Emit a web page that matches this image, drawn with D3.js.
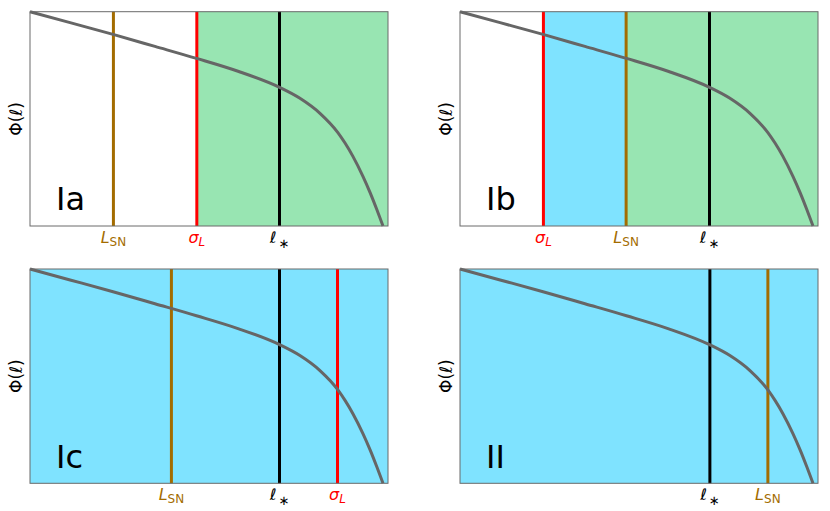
<!DOCTYPE html>
<html>
<head>
<meta charset="utf-8">
<script src="https://cdn.jsdelivr.net/npm/d3@7"></script>
<style>
  body { margin: 0; background: #fff; }
  text { font-family: "DejaVu Sans", sans-serif; }
</style>
</head>
<body>
<script>
// curve Phi(l) (arbitrary units, 0..100 on both axes)
const curveX = [0, 11.2, 23.2, 34.9, 46.5, 58.1, 69.7, 75.4, 81.0, 86.0, 88.0, 90.2, 93.0, 95.0, 96.9, 98.6];
const curveY = [100, 94.9, 89.4, 83.8, 78.2, 72.2, 64.7, 59.6, 52.6, 43.6, 38.7, 32.5, 23.2, 15.6, 7.6, 0];

// panels and the position of each vertical marker
const panelNames = ["Ia", "Ib", "Ic", "II"];
const lStar = [69.7, 69.7, 69.7, 69.8];
const lSN = [23.3, 46.4, 39.5, 86.0];
const sigmaL = [46.6, 23.3, 85.9, null];

// shaded ranges [from, to] per panel
const blueRange = [null, [23.3, 46.4], [0, 100], [0, 100]];
const greenRange = [[46.6, 100], [46.4, 100], null, null];

const W = 830, H = 511;
const pw = 358, ph = 214.3;
const origins = [[30, 11.7], [460, 11.7], [30, 269], [460, 269]];

const colSN = "#a36c00", colSig = "#ff0000", colStar = "#000000";
const colBlue = "#7fe3ff", colGreen = "#98e5b2";

const svg = d3.select("body").append("svg")
  .attr("width", W)
  .attr("height", H);

const x = d3.scaleLinear().domain([0, 100]).range([0, pw]);
const y = d3.scaleLinear().domain([0, 100]).range([ph, 0]);

const line = d3.line()
  .x(d => x(d[0]))
  .y(d => y(d[1]))
  .curve(d3.curveMonotoneX);

const pts = curveX.map((v, i) => [v, curveY[i]]);

panelNames.forEach((name, i) => {
  const g = svg.append("g")
    .attr("transform", `translate(${origins[i][0]},${origins[i][1]})`);

  // shading
  [[blueRange[i], colBlue], [greenRange[i], colGreen]].forEach(([r, c]) => {
    if (!r) return;
    g.append("rect")
      .attr("x", x(r[0]))
      .attr("y", 0)
      .attr("width", x(r[1]) - x(r[0]))
      .attr("height", ph)
      .attr("fill", c);
  });

  // marker lines + labels
  const marks = [
    { v: lSN[i], c: colSN, kind: "sn" },
    { v: sigmaL[i], c: colSig, kind: "sig" },
    { v: lStar[i], c: colStar, kind: "star" }
  ].filter(m => m.v != null);

  marks.forEach(m => {
    g.append("line")
      .attr("x1", x(m.v)).attr("x2", x(m.v))
      .attr("y1", 0).attr("y2", ph)
      .attr("stroke", m.c)
      .attr("stroke-width", 3);

    const t = g.append("text")
      .attr("x", x(m.v))
      .attr("y", ph + 17)
      .attr("text-anchor", "middle")
      .attr("fill", m.c)
      .attr("font-size", 16);
    if (m.kind === "sn") {
      t.append("tspan").attr("font-style", "italic").text("L");
      t.append("tspan").attr("font-size", 12).attr("dy", 3).text("SN");
    } else if (m.kind === "sig") {
      t.append("tspan").attr("font-style", "italic").text("σ");
      t.append("tspan").attr("font-size", 12).attr("dy", 3).attr("font-style", "italic").text("L");
    } else {
      t.append("tspan").attr("font-style", "italic").text("ℓ");
      t.append("tspan").attr("font-size", 13).attr("dy", 5).attr("dx", 2).text("∗");
    }
  });

  // curve
  g.append("path")
    .datum(pts)
    .attr("d", line)
    .attr("fill", "none")
    .attr("stroke", "#666666")
    .attr("stroke-width", 3);

  // frame
  g.append("rect")
    .attr("width", pw)
    .attr("height", ph)
    .attr("fill", "none")
    .attr("stroke", "#6a6a6a")
    .attr("stroke-width", 1);

  // panel label
  g.append("text")
    .attr("x", 26)
    .attr("y", 198.5)
    .attr("font-size", 32)
    .attr("fill", "#000")
    .text(name);

  // y label
  g.append("text")
    .attr("transform", `translate(-8,${ph / 2}) rotate(-90)`)
    .attr("text-anchor", "middle")
    .attr("font-size", 17)
    .attr("fill", "#000")
    .text("Φ(ℓ)");
});
</script>
</body>
</html>
